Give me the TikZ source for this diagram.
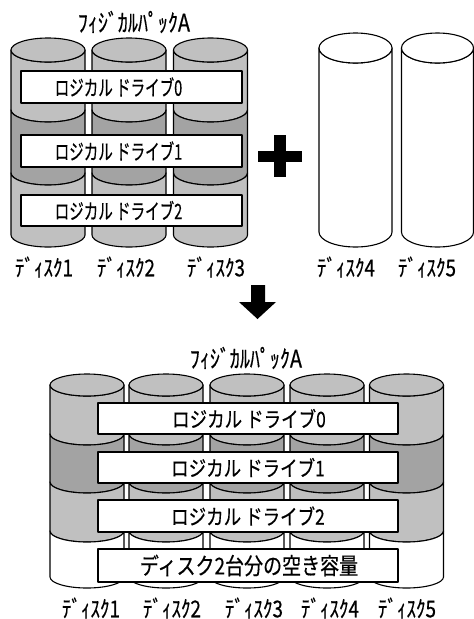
\documentclass[tikz,border=0pt]{standalone}
\usepackage{fontspec}
\setmainfont{Noto Sans CJK JP}[FakeBold=0.5]
\definecolor{lgray}{HTML}{C0C0C0}
\definecolor{dgray}{HTML}{A3A3A3}
% segment: cx, rx, ry, ya, yb, colour
\newcommand\cylseg[6]{%
  \filldraw[fill=#6] ({#1-#2},#4) -- ({#1-#2},#5)
    arc[start angle=180,end angle=0,x radius=#2pt,y radius=#3pt]
    -- ({#1+#2},#4)
    arc[start angle=0,end angle=180,x radius=#2pt,y radius=#3pt] -- cycle;}
% top ellipse: cx, rx, ry, y, colour
\newcommand\cyltop[5]{%
  \filldraw[fill=#5] (#1,#4) ellipse[x radius=#2pt,y radius=#3pt];}
\newcommand\tallx[2]{\scalebox{#1}[1.22]{#2}}
\tikzset{
  box/.style={draw, fill=white, line width=1.1pt, inner sep=0pt},
  boxtxt/.style={font=\fontsize{17.5}{20}\selectfont, inner sep=0pt},
  bigtxt/.style={font=\fontsize{19}{22}\selectfont, inner sep=0pt},
  lbl/.style={font=\fontsize{19}{22}\selectfont, inner sep=0pt},
  ttl/.style={font=\fontsize{20}{24}\selectfont, inner sep=0pt},
}
\begin{document}
\begin{tikzpicture}[x=1pt,y=1pt,yscale=-1,line width=1.1pt,line join=round]
\useasboundingbox (0,0) rectangle (474,619);
\fill[white] (0,0) rectangle (474,619);

% ---------- upper: physical pack A (3 disks) ----------
\foreach \cx in {48,129,210.5}{
  \cylseg{\cx}{37}{12}{50}{110}{lgray}
  \cylseg{\cx}{37}{12}{110}{173}{dgray}
  \cylseg{\cx}{37}{12}{173}{235}{lgray}
  \cyltop{\cx}{37}{12}{50}{lgray}
}
% disks 4 and 5 (empty)
\foreach \cx/\rx in {355.5/36.5,437.5/36}{
  \cylseg{\cx}{\rx}{15}{48}{232}{white}
  \cyltop{\cx}{\rx}{15}{48}{white}
}

\node[ttl] (ttlA) at (134,22) {\tallx{1}{ﾌｨｼﾞｶﾙﾊﾟｯｸA}};

\node[box, minimum width=221pt, minimum height=32pt] (ub0) at (131.5,87) {};
\node[box, minimum width=221pt, minimum height=32pt] (ub1) at (131.5,151) {};
\node[box, minimum width=221pt, minimum height=31pt] (ub2) at (131.5,210.5) {};
\node[boxtxt] (ut0) at (118.5,87) {\tallx{0.83}{ロジカル ドライブ0}};
\node[boxtxt] (ut1) at (118.5,151) {\tallx{0.83}{ロジカル ドライブ1}};
\node[boxtxt] (ut2) at (118.5,210.5) {\tallx{0.83}{ロジカル ドライブ2}};

\node[lbl] (ul1) at (44,267) {\tallx{1}{ﾃﾞｨｽｸ1}};
\node[lbl] (ul2) at (126,267) {\tallx{1}{ﾃﾞｨｽｸ2}};
\node[lbl] (ul3) at (216,267) {\tallx{1}{ﾃﾞｨｽｸ3}};
\node[lbl] (ul4) at (346,267) {\tallx{1}{ﾃﾞｨｽｸ4}};
\node[lbl] (ul5) at (427,267) {\tallx{1}{ﾃﾞｨｽｸ5}};

% plus sign
\fill[black] (258,151) rectangle (302,162);
\fill[black] (274,135) rectangle (286,177);

% down arrow
\fill[black] (251,285) -- (265,285) -- (265,302) -- (276,302) -- (257.5,319)
  -- (239,302) -- (251,302) -- cycle;

% ---------- lower: physical pack A (5 disks) ----------
\foreach \cx in {87,166,247,327,406.5}{
  \cylseg{\cx}{37}{11}{385}{434}{lgray}
  \cylseg{\cx}{37}{11}{434}{482}{dgray}
  \cylseg{\cx}{37}{11}{482}{531}{lgray}
  \cylseg{\cx}{37}{11}{531}{577}{white}
  \cyltop{\cx}{37}{11}{385}{lgray}
}

\node[ttl] (ttlB) at (246,358) {\tallx{1}{ﾌｨｼﾞｶﾙﾊﾟｯｸA}};

\node[box, minimum width=300pt, minimum height=31pt] (lb0) at (248,418.5) {};
\node[box, minimum width=300pt, minimum height=31pt] (lb1) at (248,467.5) {};
\node[box, minimum width=300pt, minimum height=32pt] (lb2) at (248,516) {};
\node[box, minimum width=300pt, minimum height=33pt] (lb3) at (248,565.5) {};
\node[boxtxt] (lt0) at (249,418.5) {\tallx{1}{ロジカル ドライブ0}};
\node[boxtxt] (lt1) at (248,467.5) {\tallx{1}{ロジカル ドライブ1}};
\node[boxtxt] (lt2) at (248,516) {\tallx{1}{ロジカル ドライブ2}};
\node[bigtxt] (lt3) at (249,565.5) {\tallx{1}{ディスク2台分の空き容量}};

\node[lbl] (ll1) at (91,608) {\tallx{1}{ﾃﾞｨｽｸ1}};
\node[lbl] (ll2) at (172,608) {\tallx{1}{ﾃﾞｨｽｸ2}};
\node[lbl] (ll3) at (254,608) {\tallx{1}{ﾃﾞｨｽｸ3}};
\node[lbl] (ll4) at (330,608) {\tallx{1}{ﾃﾞｨｽｸ4}};
\node[lbl] (ll5) at (407,608) {\tallx{1}{ﾃﾞｨｽｸ5}};
\end{tikzpicture}
\end{document}
